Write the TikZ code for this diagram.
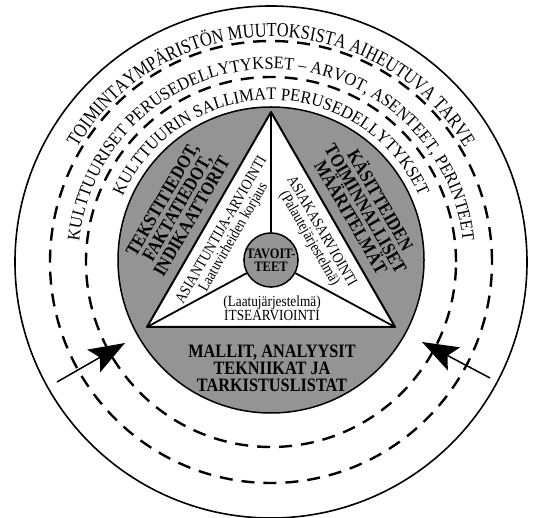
\documentclass[tikz,border=0pt]{standalone}
\usepackage{fontspec}
\setmainfont{Liberation Serif}
\newfontfamily\outerfont[FakeStretch=0.82]{Liberation Serif}
\newfontfamily\ringfont[FakeStretch=0.93]{Liberation Serif}
\newfontfamily\zonefont[FakeStretch=0.86]{Liberation Serif}
\usetikzlibrary{arrows.meta,decorations.text}
\tikzset{
  ringtext/.style={decorate,decoration={text along path,text align=center,text={#1}}},
  zone/.style={font=\zonefont\bfseries\fontsize{19}{17}\selectfont,align=center,inner sep=0pt},
  inner/.style={font=\zonefont\fontsize{15.5}{14}\selectfont,align=center,inner sep=0pt},
  dashring/.style={line width=2.4bp,dash pattern=on 13bp off 9bp},
  flow/.style={line width=1.5bp,-{Stealth[length=36bp,width=26bp,inset=7bp]}},
}
\colorlet{zonegray}{black!42}

\begin{document}
\begin{tikzpicture}[x=1bp,y=1bp,line join=round]
\useasboundingbox (-271,-256) rectangle (265,262);
% --- rings
\draw[line width=1.6bp] (0,0) circle[radius=256bp];
\draw[dashring] (0,0) circle[radius=221bp];
\draw[dashring] (0,0) circle[radius=185bp];
\path[ringtext={|\outerfont\fontsize{20}{20}\selectfont|TOIMINTAYMPÄRISTÖN MUUTOKSISTA AIHEUTUVA TARVE}]
  (180:225bp) arc[start angle=180,end angle=0,radius=225bp];
\path[ringtext={|\ringfont\fontsize{17.7}{17.7}\selectfont|KULTTUURISET PERUSEDELLYTYKSET – ARVOT, ASENTEET, PERINTEET}]
  (180:193bp) arc[start angle=180,end angle=0,radius=193bp];
\path[ringtext={|\ringfont\fontsize{17.7}{17.7}\selectfont|KULTTUURIN SALLIMAT PERUSEDELLYTYKSET}]
  (180:162bp) arc[start angle=180,end angle=0,radius=162bp];
% --- grey disc and triangle
\draw[line width=1.5bp,fill=zonegray] (0,2) circle[radius=153bp];
\coordinate (apex) at (0,150);
\coordinate (lc) at (-124,-65);
\coordinate (rc) at (124,-65);
\draw[line width=2bp,fill=white] (apex) -- (lc) -- (rc) -- cycle;
\node[circle,draw,line width=1.5bp,fill=zonegray,minimum size=54bp,inner sep=0pt,
  font=\zonefont\bfseries\fontsize{14.5}{13}\selectfont,align=center] (goal) at (0,2) {TAVOIT-\\TEET};
\draw[line width=1.8bp] (goal) -- (apex);
\draw[line width=1.8bp] (goal) -- (lc);
\draw[line width=1.8bp] (goal) -- (rc);
% --- labels
\node[zone,rotate=60] (facts) at (-94,54) {TEKSTITIEDOT,\\FAKTATIEDOT,\\INDIKAATTORIT};
\node[zone,rotate=-60] (defs) at (96,54) {KÄSITTEIDEN\\TOIMINNALLISET\\MÄÄRITELMÄT};
\node[zone] (models) at (1,-106) {MALLIT, ANALYYSIT\\TEKNIIKAT JA\\TARKISTUSLISTAT};
\node[inner,rotate=60] (expert) at (-43,28) {ASIANTUNTIJA-ARVIOINTI\\Laatuvirheiden korjaus};
\node[inner,rotate=-60] (client) at (44,27) {ASIAKASARVIOINTI\\(Palautejärjestelmä)};
\node[inner] (self) at (1,-46) {(Laatujärjestelmä)\\ITSEARVIOINTI};
% --- arrows
\coordinate (la) at (-214,-120); \coordinate (lb) at (-146,-81);
\coordinate (ra) at (219,-116); \coordinate (rb) at (151,-80);
\draw[flow] (la) -- (lb);
\draw[flow] (ra) -- (rb);
\end{tikzpicture}
\end{document}
